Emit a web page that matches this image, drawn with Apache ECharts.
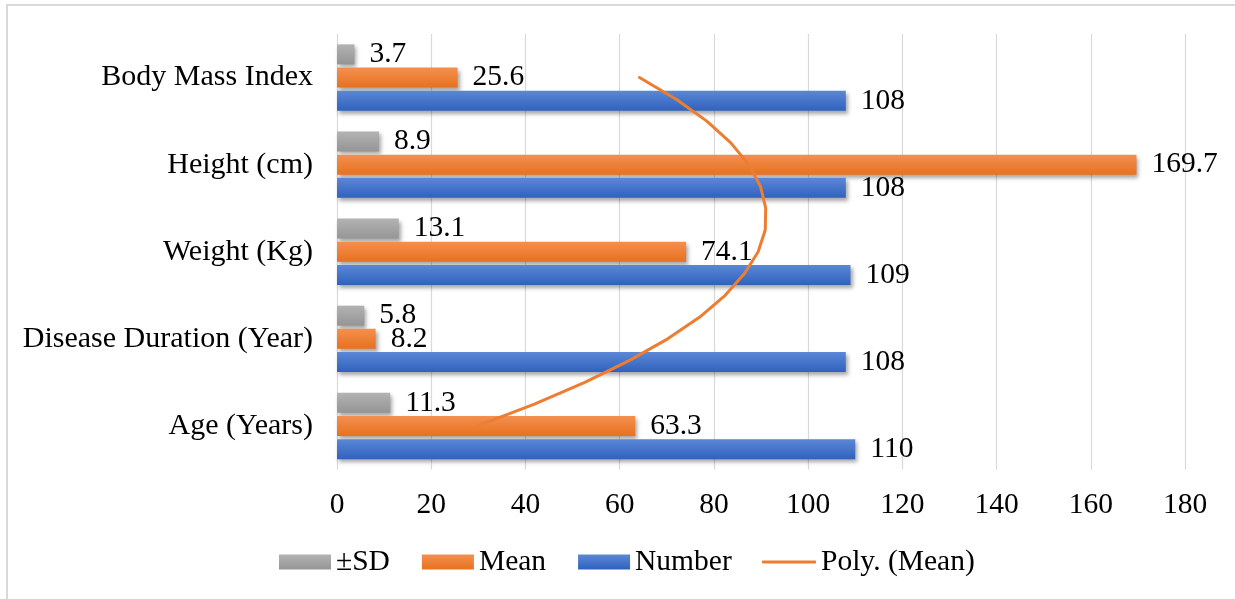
<!DOCTYPE html>
<html>
<head>
<meta charset="utf-8">
<script src="https://cdn.jsdelivr.net/npm/echarts@6/dist/echarts.min.js"></script>
<style>html,body{margin:0;padding:0;background:#fff;}#c{width:1235px;height:599px;}</style>
</head>
<body>
<div id="c"></div>
<script>
const categories = ['Age (Years)', 'Disease Duration (Year)', 'Weight (Kg)', 'Height (cm)', 'Body Mass Index'];
const sdValues = [11.3, 5.8, 13.1, 8.9, 3.7];
const meanValues = [63.3, 8.2, 74.1, 169.7, 25.6];
const numberValues = [110, 108, 109, 108, 108];
// Trend curve: value at each category position
const polyPos = [0, 0.25, 0.5, 0.75, 1, 1.25, 1.5, 1.75, 2, 2.25, 2.5, 2.75, 3, 3.25, 3.5, 3.75, 4];
const polyValues = [29.8, 41.9, 52.6, 62.0, 70.2, 77.0, 82.4, 86.5, 89.4, 90.9, 91.0, 89.9, 87.4, 83.6, 78.5, 72.0, 64.2];
const xTicks = [0, 20, 40, 60, 80, 100, 120, 140, 160, 180];

const FONT = 'Liberation Serif';
function grad(top, bottom) {
  return new echarts.graphic.LinearGradient(0, 0, 0, 1, [
    { offset: 0, color: top }, { offset: 1, color: bottom }
  ]);
}
const shadow = { shadowColor: 'rgba(0,0,0,0.35)', shadowBlur: 4, shadowOffsetX: 2, shadowOffsetY: 3 };
const lbl = { show: true, position: 'right', distance: 15, color: '#000', fontFamily: FONT, fontSize: 29.5 };

const chart = echarts.init(document.getElementById('c'), null, { renderer: 'canvas' });
chart.setOption({
  animation: false,
  backgroundColor: '#fff',
  textStyle: { fontFamily: FONT },
  graphic: [{
    type: 'rect', shape: { x: 7, y: 5, width: 1400, height: 800 },
    style: { fill: 'none', stroke: '#d9d9d9', lineWidth: 2 }, silent: true, z: -10
  }],
  grid: { left: 337, right: 50, top: 34, bottom: 129.5, containLabel: false },
  xAxis: {
    type: 'value', min: xTicks[0], max: xTicks[xTicks.length - 1], interval: xTicks[1] - xTicks[0],
    axisLine: { show: false }, axisTick: { show: false },
    splitLine: { show: true, lineStyle: { color: '#d9d9d9', width: 1.2 } },
    axisLabel: { color: '#000', fontFamily: FONT, fontSize: 29.5, margin: 21 }
  },
  yAxis: [{
    type: 'category', data: categories,
    axisLine: { show: false }, axisTick: { show: false },
    axisLabel: { color: '#000', fontFamily: FONT, fontSize: 30, margin: 24 }
  }, {
    type: 'value', min: -0.5, max: 4.5, show: false
  }],
  legend: [{
    data: ['±SD', 'Mean', 'Number'],
    left: 279, top: 547, padding: 0, itemGap: 32, itemWidth: 52, itemHeight: 15, icon: 'rect',
    textStyle: { color: '#000', fontFamily: FONT, fontSize: 29.5 }
  }, {
    data: ['Poly. (Mean)'],
    left: 762, top: 547, padding: 0, itemWidth: 54, itemHeight: 3, icon: 'roundRect',
    textStyle: { color: '#000', fontFamily: FONT, fontSize: 29.5 }
  }],
  series: [
    {
      name: '±SD', type: 'bar', data: sdValues, barWidth: 20, barGap: '16%',
      itemStyle: Object.assign({ color: grad('#b3b3b3', '#959595') }, shadow), label: lbl
    },
    {
      name: 'Mean', type: 'bar', data: meanValues, barWidth: 20, barGap: '16%',
      itemStyle: Object.assign({ color: grad('#f39050', '#e8711e') }, shadow), label: lbl
    },
    {
      name: 'Number', type: 'bar', data: numberValues, barWidth: 20, barGap: '16%',
      itemStyle: Object.assign({ color: grad('#5b87d6', '#3062bd') }, shadow), label: lbl
    },
    {
      name: 'Poly. (Mean)', type: 'line', yAxisIndex: 1, smooth: false, showSymbol: false, z: 5,
      data: polyValues.map((v, i) => [v, polyPos[i]]),
      lineStyle: { color: '#ed7d31', width: 3, join: 'round', cap: 'round' }, itemStyle: { color: '#ed7d31' }
    }
  ]
});
</script>
</body>
</html>
